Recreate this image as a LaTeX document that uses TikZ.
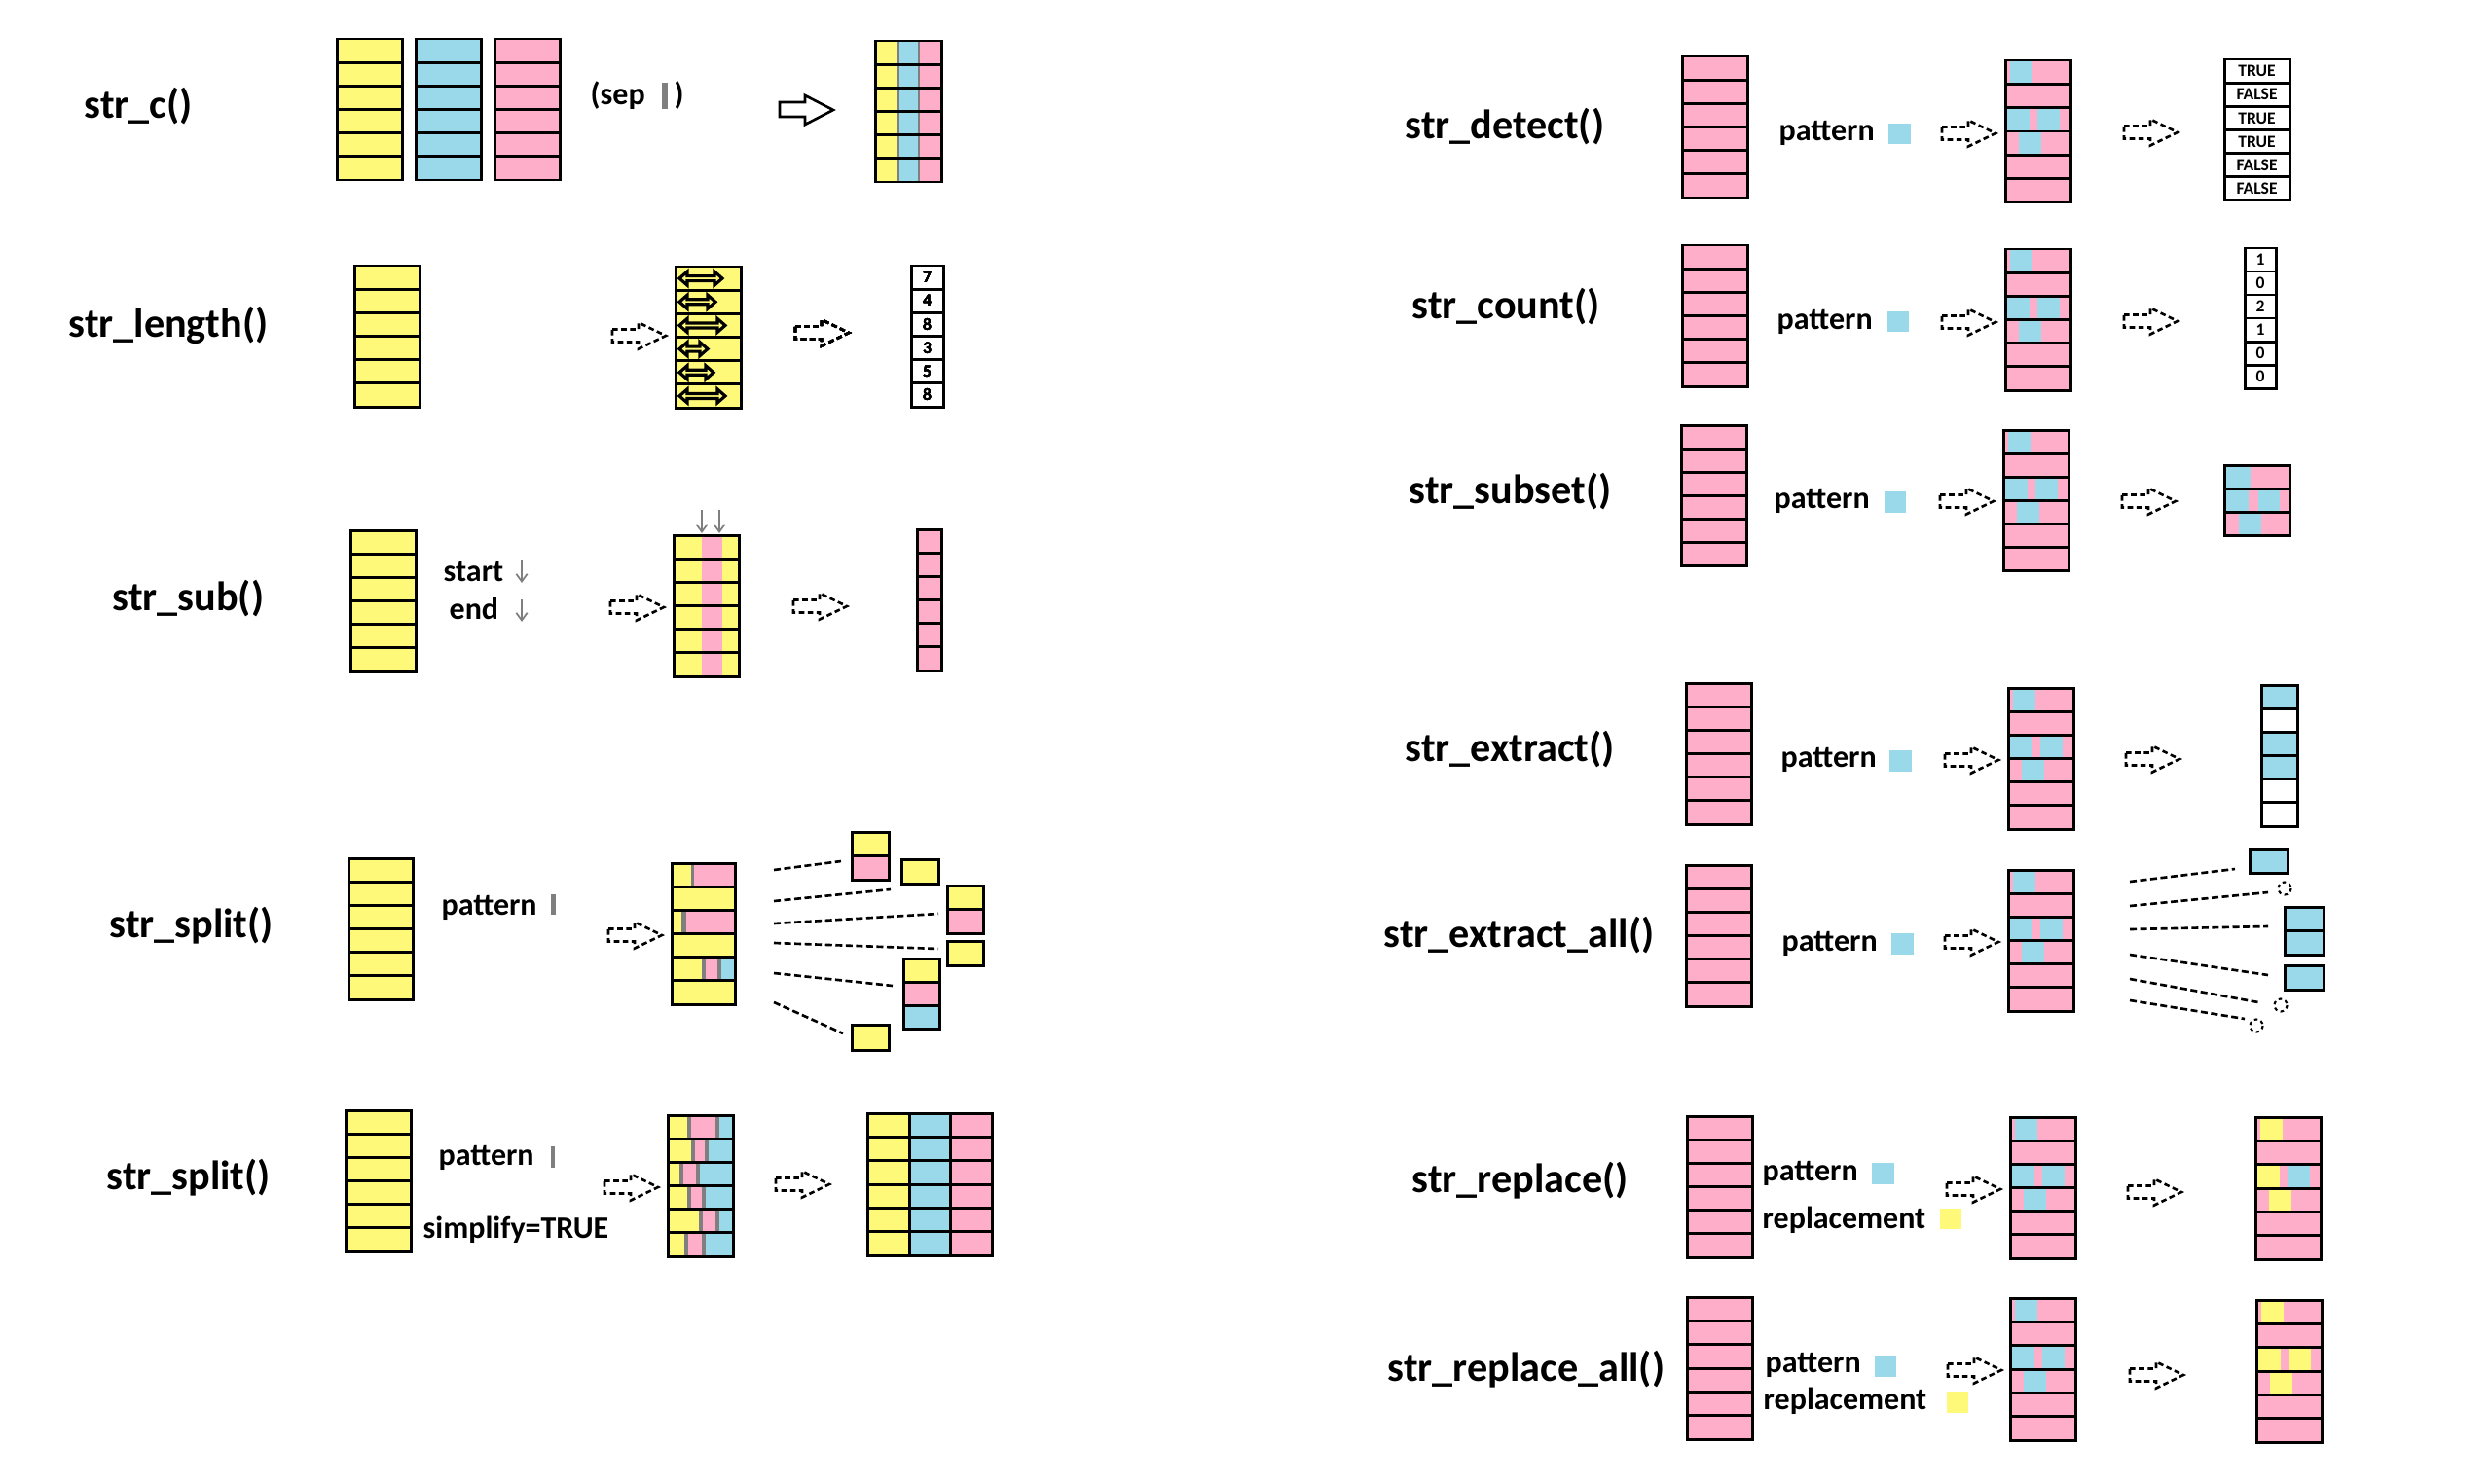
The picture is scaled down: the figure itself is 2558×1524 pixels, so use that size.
\documentclass[tikz,border=0pt]{standalone}
\usepackage{fontspec}
\setmainfont{Carlito}
\usetikzlibrary{arrows.meta}

\definecolor{cyel}{RGB}{255,249,122}
\definecolor{cblu}{RGB}{153,217,234}
\definecolor{cpnk}{RGB}{255,174,201}
\definecolor{cgry}{RGB}{127,127,127}

\tikzset{
  box/.style={line width=0.85pt},
  fname/.style={font=\fontsize{12}{14}\selectfont\bfseries,anchor=base west,inner sep=0pt},
  argtext/.style={font=\fontsize{9.1}{11}\selectfont\bfseries,anchor=base west,inner sep=0pt},
  celltext/.style={font=\fontsize{5}{6}\selectfont\bfseries,inner sep=0pt},
  dasharrow/.style={line width=0.75pt,dash pattern=on 1.6pt off 1pt},
  spoke/.style={line width=0.75pt,dash pattern=on 2pt off 1pt},
  pointer/.style={cgry,line width=0.5pt,-{Straight Barb[length=2.2pt,width=3.2pt]}}
}

\newcommand{\setrows}[3]{\pgfmathsetmacro{\rtop}{#1}\pgfmathsetmacro{\rh}{(#2-#1)/#3}}
\newcommand{\patch}[4]{\fill[#1] ({#2},{\rtop+(#4-1)*\rh}) rectangle ({#3},{\rtop+#4*\rh});}
\newcommand{\cellgrid}[5]{%
  \pgfmathtruncatemacro{\nr}{#5-1}%
  \ifnum\nr>0
    \foreach \k in {1,...,\nr}{\draw[box] ({#1},{#2+\k*(#4-#2)/#5}) -- ({#3},{#2+\k*(#4-#2)/#5});}%
  \fi
  \draw[box] ({#1},#2) rectangle ({#3},#4);}
\newcommand{\strcol}[5]{\fill[#5] (#1,#2) rectangle (#3,#4); \cellgrid{#1}{#2}{#3}{#4}{6}}
\newcommand{\darrow}[2]{%
  \draw[dasharrow] (#1,{#2-6.5}) -- ++(27,0) -- ++(0,-7) -- ({#1+55},#2)
    -- ({#1+27},{#2+13.5}) -- ++(0,-7) -- (#1,{#2+6.5}) -- cycle;}
\newcommand{\lenarrow}[3]{%
  \draw[line width=0.9pt,fill=cyel] (#1,#3) -- ({#1+8},{#3-7}) -- ({#1+8},{#3-2.5}) -- ({#2-8},{#3-2.5})
    -- ({#2-8},{#3-7}) -- (#2,#3) -- ({#2-8},{#3+7}) -- ({#2-8},{#3+2.5}) -- ({#1+8},{#3+2.5}) -- ({#1+8},{#3+7}) -- cycle;}
\newcommand{\matchcol}[5]{%
  \fill[cpnk] (#1,#2) rectangle ({#1+67},#3);
  \setrows{#2}{#3}{6}%
  \patch{#4}{#1+5}{#1+28}{1}
  \patch{#4}{#1+2}{#1+25}{3}
  \patch{#5}{#1+33}{#1+56}{3}
  \patch{#4}{#1+14}{#1+37}{4}
  \cellgrid{#1}{#2}{#1+67}{#3}{6}}

\begin{document}
\begin{tikzpicture}[x=0.01cm,y=-0.01cm]
\useasboundingbox (0,0) rectangle (2558,1524);

% str_c
\node[fname] (fn-c) at (86,121) {str\_c()};
\strcol{346}{40}{413}{185}{cyel}
\strcol{427}{40}{494}{185}{cblu}
\strcol{508}{40}{575}{185}{cpnk}
\node[argtext] (sep) at (606,107) {(sep};
\fill[cgry] (680,85) rectangle (686,112);
\node[argtext] (sep-end) at (692,107) {)};
\draw[line width=0.75pt] (801,105) -- (827,105) -- (827,98) -- (856,113) -- (827,128) -- (827,120) -- (801,120) -- cycle;
\fill[cyel] (899,42) rectangle (923,187);
\fill[cblu] (923,42) rectangle (944,187);
\fill[cpnk] (944,42) rectangle (967,187);
\draw[cgry,line width=0.8pt] (923,42) -- (923,187) (944,42) -- (944,187);
\cellgrid{899}{42}{967}{187}{6}

% str_length
\node[fname] (fn-length) at (70,346) {str\_length()};
\strcol{364}{273}{431}{418}{cyel}
\darrow{629}{345}
\fill[cyel] (694,274) rectangle (761,419);
\foreach \e [count=\i, evaluate=\i as \yc using 274+(\i-0.5)*24.17] in {742,735,745,727,733,745}
  \lenarrow{698}{\e}{\yc}
\cellgrid{694}{274}{761}{419}{6}
\darrow{817}{342}
\cellgrid{936}{273}{969}{418}{6}
\foreach \v [count=\i] in {7,4,8,3,5,8}
  \node[celltext] (len-\i) at (952.5,{273+(\i-0.5)*24.17}) {\v};

% str_sub
\node[fname] (fn-sub) at (115,627) {str\_sub()};
\strcol{360}{545}{427}{690}{cyel}
\node[argtext] (sub-start) at (455,597) {start};
\draw[pointer] (536,575) -- (536,599);
\node[argtext] (sub-end) at (461,636) {end};
\draw[pointer] (536,616) -- (536,639);
\darrow{627}{624}
\fill[cyel] (692,550) rectangle (759,695);
\fill[cpnk] (721,550) rectangle (742,695);
\cellgrid{692}{550}{759}{695}{6}
\draw[pointer] (721,524) -- (721,548);
\draw[pointer] (739,524) -- (739,548);
\darrow{815}{623}
\strcol{942}{544}{967}{689}{cpnk}

% str_split
\node[fname] (fn-split) at (112,963) {str\_split()};
\strcol{358}{882}{424}{1027}{cyel}
\node[argtext] (split-pat) at (453,940) {pattern};
\fill[cgry] (566,919) rectangle (571,940);
\darrow{625}{961}
\fill[cyel] (690,887) rectangle (755,1032);
\setrows{887}{1032}{6}
\patch{cgry}{710}{713}{1} \patch{cpnk}{713}{755}{1}
\patch{cgry}{700}{704.5}{3} \patch{cpnk}{704.5}{755}{3}
\patch{cgry}{721}{725}{5} \patch{cpnk}{725}{737}{5} \patch{cgry}{737}{741}{5} \patch{cblu}{741}{755}{5}
\cellgrid{690}{887}{755}{1032}{6}
\foreach \a/\b/\c/\d in {795/894/864/885, 795/926/915/914, 795/949/964/939, 795/969/964/975, 795/1000/917/1013, 795/1030/866/1062}
  \draw[spoke] (\a,\b) -- (\c,\d);
\fill[cyel] (875,855) rectangle (913,879.5); \fill[cpnk] (875,879.5) rectangle (913,904);
\cellgrid{875}{855}{913}{904}{2}
\fill[cyel] (926,883) rectangle (964,908); \cellgrid{926}{883}{964}{908}{1}
\fill[cyel] (973,910) rectangle (1010,934.5); \fill[cpnk] (973,934.5) rectangle (1010,959);
\cellgrid{973}{910}{1010}{959}{2}
\fill[cyel] (973,967) rectangle (1010,992); \cellgrid{973}{967}{1010}{992}{1}
\fill[cyel] (928,985) rectangle (965,1009); \fill[cpnk] (928,1009) rectangle (965,1033); \fill[cblu] (928,1033) rectangle (965,1057);
\cellgrid{928}{985}{965}{1057}{3}
\fill[cyel] (875,1053) rectangle (913,1079); \cellgrid{875}{1053}{913}{1079}{1}

% str_split, simplify
\node[fname] (fn-split2) at (109,1222) {str\_split()};
\strcol{355}{1141}{422}{1286}{cyel}
\node[argtext] (split2-pat) at (450,1197) {pattern};
\fill[cgry] (566,1178) rectangle (570,1200);
\node[argtext] (split2-simp) at (434,1272) {simplify=TRUE};
\darrow{621}{1220}
\fill[cblu] (686,1146) rectangle (753,1291);
\setrows{1146}{1291}{6}
\foreach \a/\b [count=\i] in {706/735,710/724,698/715,706/721,718/735,703/721}{
  \patch{cyel}{686}{\a}{\i} \patch{cgry}{\a}{\a+3.5}{\i} \patch{cpnk}{\a+3.5}{\b}{\i} \patch{cgry}{\b}{\b+4}{\i}}
\cellgrid{686}{1146}{753}{1291}{6}
\darrow{797}{1217}
\fill[cyel] (891,1144) rectangle (934,1290);
\fill[cblu] (934,1144) rectangle (976,1290);
\fill[cpnk] (976,1144) rectangle (1019,1290);
\cellgrid{891}{1144}{1019}{1290}{6}
\draw[box] (934,1144) -- (934,1290) (976,1144) -- (976,1290);

% str_detect
\node[fname] (fn-detect) at (1443,142) {str\_detect()};
\strcol{1728}{58}{1795}{203}{cpnk}
\node[argtext] (detect-pat) at (1827,144) {pattern};
\fill[cblu] (1940,127) rectangle (1963,148);
\darrow{1995}{137}
\matchcol{2060}{62}{208}{cblu}{cblu}
\darrow{2182}{136}
\cellgrid{2285}{61}{2352}{206}{6}
\foreach \v [count=\i] in {TRUE,FALSE,TRUE,TRUE,FALSE,FALSE}
  \node[celltext] (det-\i) at (2318.5,{61+(\i-0.5)*24.17}) {\v};

% str_count
\node[fname] (fn-count) at (1450,327) {str\_count()};
\strcol{1728}{252}{1795}{397}{cpnk}
\node[argtext] (count-pat) at (1825,338) {pattern};
\fill[cblu] (1939,320) rectangle (1961,341);
\darrow{1995}{331}
\matchcol{2060}{256}{401}{cblu}{cblu}
\darrow{2182}{330}
\cellgrid{2306}{255}{2338}{399}{6}
\foreach \v [count=\i] in {1,0,2,1,0,0}
  \node[celltext] (cnt-\i) at (2322,{255+(\i-0.5)*24}) {\v};

% str_subset
\node[fname] (fn-subset) at (1447,517) {str\_subset()};
\strcol{1727}{437}{1794}{581}{cpnk}
\node[argtext] (subset-pat) at (1822,522) {pattern};
\fill[cblu] (1936,505) rectangle (1958,527);
\darrow{1993}{515}
\matchcol{2058}{442}{586}{cblu}{cblu}
\darrow{2180}{515}
\fill[cpnk] (2285,478) rectangle (2352,550);
\setrows{478}{550}{3}
\patch{cblu}{2285}{2312}{1}
\patch{cblu}{2285}{2310}{2} \patch{cblu}{2320}{2342}{2}
\patch{cblu}{2300}{2323}{3}
\cellgrid{2285}{478}{2352}{550}{3}

% str_extract
\node[fname] (fn-extract) at (1443,782) {str\_extract()};
\strcol{1732}{702}{1799}{847}{cpnk}
\node[argtext] (extract-pat) at (1829,788) {pattern};
\fill[cblu] (1941,771) rectangle (1964,793);
\darrow{1998}{781}
\matchcol{2063}{707}{852}{cblu}{cblu}
\darrow{2184}{780}
\setrows{704}{849}{6}
\foreach \r in {1,3,4} {\patch{cblu}{2323}{2360}{\r}}
\cellgrid{2323}{704}{2360}{849}{6}

% str_extract_all
\node[fname] (fn-extractall) at (1421,973) {str\_extract\_all()};
\strcol{1732}{889}{1799}{1034}{cpnk}
\node[argtext] (extractall-pat) at (1830,977) {pattern};
\fill[cblu] (1943,959) rectangle (1966,981);
\darrow{1998}{968}
\matchcol{2063}{894}{1039}{cblu}{cblu}
\foreach \a/\b/\c/\d in {2188/906/2296/893, 2188/931/2330/917, 2188/955/2330/952, 2188/981/2330/1002, 2188/1006/2320/1030, 2188/1028/2306/1047}
  \draw[spoke] (\a,\b) -- (\c,\d);
\fill[cblu] (2311,872) rectangle (2350,897); \cellgrid{2311}{872}{2350}{897}{1}
\fill[cblu] (2347,932) rectangle (2387,981); \cellgrid{2347}{932}{2387}{981}{2}
\fill[cblu] (2347,992) rectangle (2387,1017); \cellgrid{2347}{992}{2387}{1017}{1}
\foreach \x/\y in {2347/913, 2343/1033, 2318/1054}
  \draw[line width=0.6pt,dash pattern=on 1pt off 1pt] (\x,\y) circle (6.5);

% str_replace
\node[fname] (fn-replace) at (1450,1225) {str\_replace()};
\strcol{1733}{1147}{1800}{1292}{cpnk}
\node[argtext] (replace-pat) at (1810,1213) {pattern};
\fill[cblu] (1923,1195) rectangle (1946,1217);
\node[argtext] (replace-rep) at (1810,1262) {replacement};
\fill[cyel] (1993,1242) rectangle (2015,1263);
\darrow{2000}{1222}
\matchcol{2065}{1148}{1293}{cblu}{cblu}
\darrow{2186}{1225}
\matchcol{2317}{1148}{1294}{cyel}{cblu}

% str_replace_all
\node[fname] (fn-replaceall) at (1425,1419) {str\_replace\_all()};
\strcol{1733}{1333}{1800}{1479}{cpnk}
\node[argtext] (replaceall-pat) at (1813,1410) {pattern};
\fill[cblu] (1926,1393) rectangle (1948,1415);
\node[argtext] (replaceall-rep) at (1811,1448) {replacement};
\fill[cyel] (2000,1430) rectangle (2022,1452);
\darrow{2001}{1408}
\matchcol{2065}{1334}{1480}{cblu}{cblu}
\darrow{2188}{1413}
\matchcol{2318}{1336}{1482}{cyel}{cyel}
\end{tikzpicture}
\end{document}
